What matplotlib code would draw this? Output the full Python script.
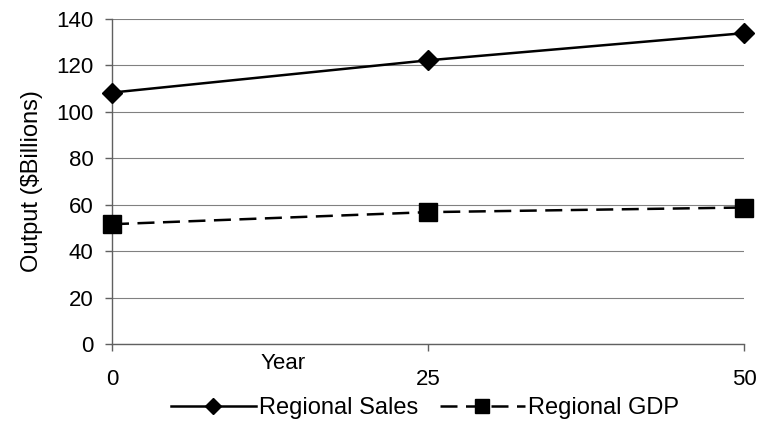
import matplotlib
matplotlib.use("Agg")
import matplotlib.pyplot as plt

years = [0, 25, 50]
regional_sales = [108.3, 122.2, 133.9]
regional_gdp = [51.6, 56.8, 58.8]
y_ticks = [0, 20, 40, 60, 80, 100, 120, 140]
x_ticks = [0, 25, 50]

plt.rcParams['font.family'] = ['Liberation Sans', 'DejaVu Sans']

fig = plt.figure(figsize=(7.65, 4.22), dpi=100)
ax = fig.add_axes([112/765, 1-344/422, (744-112)/765, (344-19)/422])

ax.plot(years, regional_sales, color='black', lw=1.8, marker='D', ms=10.5,
        label='Regional Sales', clip_on=False, zorder=5)
ax.plot(years, regional_gdp, color='black', lw=1.8, marker='s', ms=12.5,
        dashes=(6.8, 3.4), label='Regional GDP', clip_on=False, zorder=5)

ax.set_xlim(0, 50)
ax.set_ylim(0, 140)
ax.set_yticks(y_ticks)
ax.set_xticks(x_ticks)
ax.set_xticklabels([str(v) for v in x_ticks])
ax.yaxis.grid(True, color='#808080', lw=0.8)
ax.set_axisbelow(True)
for s in ['top', 'right']:
    ax.spines[s].set_visible(False)
for s in ['left', 'bottom']:
    ax.spines[s].set_color('#606060')
    ax.spines[s].set_linewidth(1.0)
ax.tick_params(axis='y', direction='out', length=5, width=1, color='#606060',
               labelsize=16, pad=8.5)
ax.tick_params(axis='x', direction='out', length=5, width=1, color='#606060',
               labelsize=16, pad=13)

ax.set_ylabel('Output ($Billions)', fontsize=17)
ax.yaxis.label.set_va('center')
ax.yaxis.set_label_coords((32-112)/632, 0.5)

ax.set_xlabel('Year', fontsize=16)
ax.xaxis.label.set_va('baseline')
ax.xaxis.set_label_coords((283-112)/632, (344-369)/325)

fig.legend(loc='center', bbox_to_anchor=(425/765, 1-408/422), ncol=2,
           frameon=False, fontsize=17, handlelength=3.6, handletextpad=0.15,
           columnspacing=0.9, markerscale=0.8, borderpad=0)

fig.savefig('out.png', dpi=100)
